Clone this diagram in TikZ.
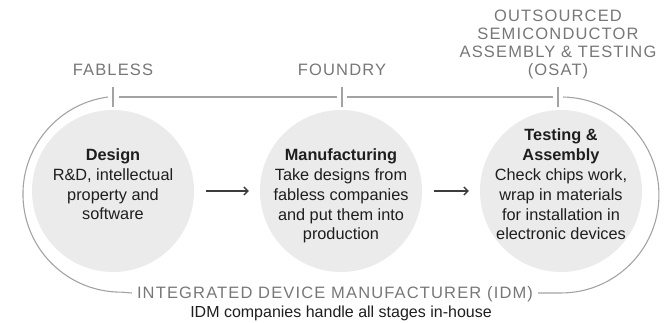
\documentclass[tikz,border=0pt]{standalone}
\usepackage{fontspec}
\setmainfont{Liberation Sans}
\newfontfamily\capsfont[LetterSpace=7]{Liberation Sans}
\usetikzlibrary{arrows.meta}
\definecolor{ringgray}{HTML}{A3A3A3}
\definecolor{capgray}{HTML}{777777}
\definecolor{discfill}{HTML}{EBEBEB}
\definecolor{inktext}{HTML}{1E1E1E}
\definecolor{arrowink}{HTML}{3C3C3C}
\begin{document}
\begin{tikzpicture}[x=1pt,y=-1pt,
  disc/.style={circle, fill=discfill, minimum size=162pt, inner sep=0pt},
  body/.style={align=center, text=inktext, font=\fontsize{16.3}{19.8}\selectfont, inner sep=0pt, anchor=base},
  capslabel/.style={align=center, text=capgray, font=\capsfont\fontsize{16.5}{18.3}\selectfont, inner sep=0pt, anchor=base},
  subnote/.style={text=inktext, font=\fontsize{16}{19}\selectfont, inner sep=0pt, anchor=base},
  ring/.style={draw=ringgray, line width=1.1pt},
  flow/.style={draw=arrowink, line width=1.3pt, -{Straight Barb[length=4pt,width=8pt]}, shorten <=12pt, shorten >=11pt}
]
\useasboundingbox (0,0) rectangle (670,323);

% stage discs
\node[disc] (c1) at (113,191) {};
\node[disc] (c2) at (341,191) {};
\node[disc] (c3) at (561,191) {};

% stage texts (placed by the baseline of their last line)
\node[body] (tDesign) at (113,220) {\textbf{Design}\\R\&D, intellectual\\property and\\software};
\node[body] (tMake) at (341,240) {\textbf{Manufacturing}\\Take designs from\\fabless companies\\and put them into\\production};
\node[body] (tTest) at (561,240) {\textbf{Testing \&}\\\textbf{Assembly}\\Check chips work,\\wrap in materials\\for installation in\\electronic devices};

% flow arrows
\draw[flow] (c1) -- (c2);
\draw[flow] (c2) -- (c3);

% business model labels
\node[capslabel] (lFab) at (113,76) {FABLESS};
\node[capslabel] (lFoundry) at (342,76) {FOUNDRY};
\node[capslabel] (lOsat) at (558,76) {OUTSOURCED\\SEMICONDUCTOR\\ASSEMBLY \& TESTING\\(OSAT)};

% tick marks under the labels
\coordinate (kFab) at (113,97);
\coordinate (kFoundry) at (342,97);
\coordinate (kOsat) at (558,97);
\foreach \k in {kFab,kFoundry,kOsat}
  \draw[ring] ([yshift=-10pt]\k) -- ([yshift=10pt]\k);
\draw[ring] ([xshift=6pt]kFab) -- ([xshift=-5pt]kFoundry);
\draw[ring] ([xshift=5pt]kFoundry) -- ([xshift=-5pt]kOsat);

% IDM bracket
\node[capslabel] (idm) at (335,299) {INTEGRATED DEVICE MANUFACTURER (IDM)};
\node[subnote] (idmNote) at (341,318) {IDM companies handle all stages in-house};
\draw[ring] ([xshift=-5pt]kFab) arc[start angle=97.6, end angle=270, radius=98pt]
  -- ([xshift=-5pt]idm.west |- 0,293);
\draw[ring] ([xshift=5pt]kOsat) arc[start angle=88.8, end angle=-90, radius=98pt]
  -- ([xshift=5pt]idm.east |- 0,293);
\end{tikzpicture}
\end{document}
